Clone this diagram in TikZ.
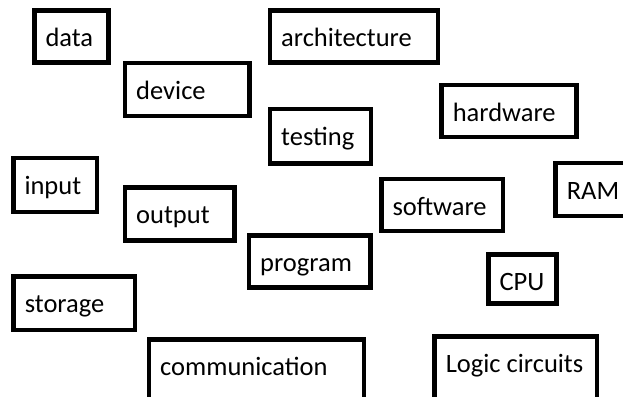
\documentclass[tikz,border=0pt]{standalone}
\usepackage{fontspec}
\setmainfont{Carlito}
\usetikzlibrary{calc}
\tikzset{
  wordbox/.style={draw=black, line width=4.5pt, fill=white, inner xsep=11.25pt, inner ysep=0pt,
    outer sep=0pt, align=flush left, font=\fontsize{26.5}{29}\selectfont, text=black}
}
\newcommand\bx[6]{%
  \pgfmathsetmacro\bxW{#4-#2-4.5-22.5}%
  \pgfmathsetmacro\bxH{#5-#3-4.5}%
  \pgfmathsetmacro\bxD{\bxH-36.25}%
  \node[wordbox, text width=\bxW pt, text height=36.25pt, text depth=\bxD pt, anchor=north west]
    (#1) at (#2pt+2.25pt, 396pt-#3pt-2.25pt) {#6};}
\begin{document}
\begin{tikzpicture}
\useasboundingbox (0,0) rectangle (623pt,396pt);
\clip (0,0) rectangle (623pt,396pt);
\fill[white] (0,0) rectangle (623pt,396pt);
\bx{data}{32}{8.3}{110.7}{65}{data}
\bx{device}{122.7}{60.7}{251.7}{118.3}{device}
\bx{architecture}{267.7}{8.3}{440}{65}{architecture}
\bx{testing}{267.7}{106.7}{373.3}{165.7}{testing}
\bx{hardware}{439.3}{82.7}{578.7}{139.3}{hardware}
\bx{input}{11}{156}{99}{214.3}{input}
\bx{output}{122.7}{185.3}{236.7}{242.7}{output}
\bx{program}{246.7}{233.3}{372.7}{290}{program}
\bx{storage}{11.3}{274.3}{137.3}{332.3}{storage}
\bx{communication}{146.7}{337.3}{366}{410}{communication}
\bx{software}{379}{176.7}{505}{233.3}{software}
\bx{ram}{553.3}{161}{650}{218.3}{RAM}
\bx{cpu}{486}{252.3}{558.7}{306}{CPU}
\bx{logic}{432.3}{334}{599.3}{410}{Logic circuits}
\end{tikzpicture}
\end{document}
